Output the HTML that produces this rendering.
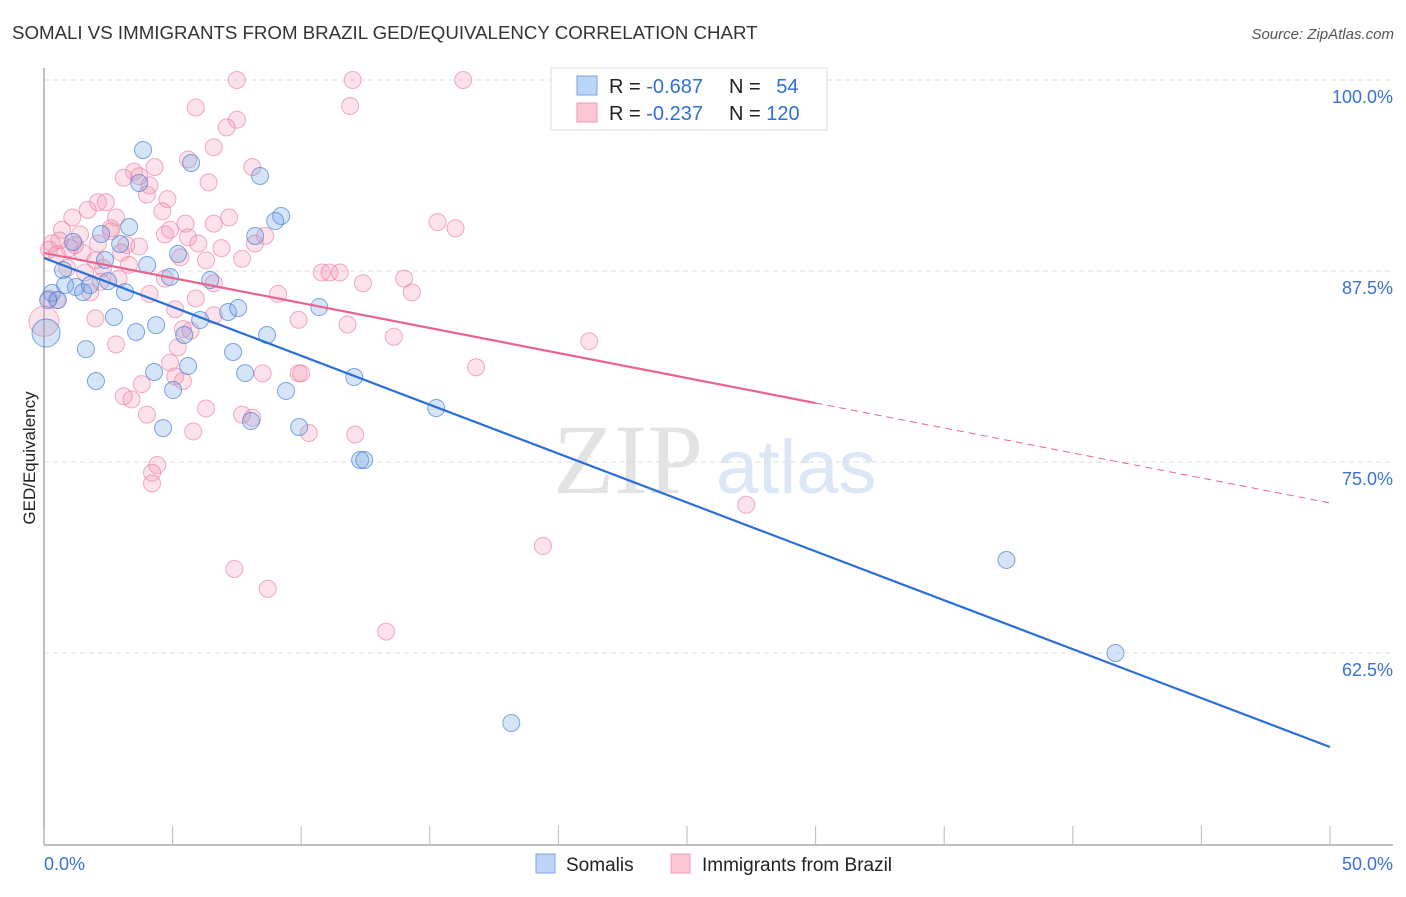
<!DOCTYPE html>
<html><head><meta charset="utf-8"><style>
html,body{margin:0;padding:0;background:#fff;}
body{width:1406px;height:892px;overflow:hidden;font-family:"Liberation Sans",sans-serif;}
</style></head><body>
<svg id="chart" width="1406" height="892" xmlns="http://www.w3.org/2000/svg">
<text x="12" y="39" font-size="18.7" fill="#333">SOMALI VS IMMIGRANTS FROM BRAZIL GED/EQUIVALENCY CORRELATION CHART</text>
<text x="1394" y="39" font-size="15" fill="#555" font-style="italic" text-anchor="end">Source: ZipAtlas.com</text>
<g>
<text x="553" y="493" font-size="100" font-family="Liberation Serif,serif" fill="#e3e3e3">ZIP</text>
<text x="716" y="493" font-size="76" fill="#dbe6f6">atlas</text>
</g>
<g id="grid"></g>
<g id="axes"></g>
<g id="marks"></g>
<text transform="translate(35,458) rotate(-90)" font-size="17" fill="#222" text-anchor="middle">GED/Equivalency</text>
<g>
<rect x="551" y="68" width="276" height="62" fill="#fff" stroke="#ddd"/>
<rect x="577" y="76" width="20" height="19" fill="#bcd4f5" stroke="#7aa6e6"/>
<rect x="577" y="103" width="20" height="19" fill="#fcc8d7" stroke="#ee9ab4"/>
<text x="609" y="93" font-size="20" fill="#222">R = <tspan fill="#2f6fd6">-0.687</tspan></text>
<text x="729" y="93" font-size="20" fill="#222">N = <tspan fill="#2f6fd6" dx="10">54</tspan></text>
<text x="609" y="120" font-size="20" fill="#222">R = <tspan fill="#2f6fd6">-0.237</tspan></text>
<text x="729" y="120" font-size="20" fill="#222">N = <tspan fill="#2f6fd6">120</tspan></text>
</g>
<g>
<rect x="536" y="854" width="19" height="19" fill="#bcd4f5" stroke="#7aa6e6"/>
<text x="566" y="871" font-size="19" fill="#222">Somalis</text>
<rect x="671" y="854" width="19" height="19" fill="#fcc8d7" stroke="#ee9ab4"/>
<text x="702" y="871" font-size="19" fill="#222">Immigrants from Brazil</text>
</g>
</svg>
<script>
const xTicksLabels = ["0.0%","50.0%"];
const yTickValues = [100, 87.5, 75, 62.5];
const yTickLabels = ["100.0%","87.5%","75.0%","62.5%"];
const blueX = [3.85,5.72,8.40,3.70,9.22,8.99,3.31,2.22,8.21,2.96,1.13,5.21,2.37,4.01,0.74,4.90,6.46,2.49,0.31,0.54,1.24,1.52,3.15,2.72,4.36,6.07,7.16,7.55,10.70,8.67,3.58,5.45,1.63,7.35,2.02,5.60,4.28,7.82,12.06,5.02,9.41,15.25,4.63,8.05,9.92,12.29,12.45,37.42,41.66,18.17,0.08,0.16,1.79,0.82];
const blueY = [95.42,94.57,93.72,93.26,91.10,90.77,90.38,89.92,89.79,89.27,89.40,88.61,88.22,87.89,87.56,87.11,86.91,86.84,86.06,85.60,86.45,86.12,86.12,84.49,83.96,84.29,84.82,85.08,85.14,83.31,83.51,83.31,82.39,82.20,80.30,81.28,80.89,80.82,80.56,79.71,79.65,78.53,77.22,77.68,77.29,75.13,75.13,68.59,62.50,57.92,83.44,85.60,86.58,86.58];
const pinkX = [7.5,12.0,16.3,5.9,11.9,7.5,7.1,6.6,5.6,4.3,8.1,3.5,3.1,3.7,6.4,4.0,4.8,2.1,2.4,1.7,4.6,2.8,1.1,7.2,6.6,5.5,15.3,16.0,0.7,2.6,4.7,8.6,0.3,2.1,3.2,1.0,3.7,5.6,8.2,6.0,6.9,0.5,1.5,3.0,7.7,5.3,6.3,0.9,2.3,1.6,2.9,4.7,10.8,11.1,11.5,14.0,12.4,6.6,2.2,1.8,14.3,9.1,4.1,5.9,0.2,0.5,5.1,2.0,6.6,9.9,11.8,5.4,5.7,13.6,21.2,2.8,5.2,4.9,5.1,8.5,9.9,10.0,16.8,3.8,3.1,3.4,5.4,6.3,4.0,7.7,8.1,5.8,10.3,12.1,4.4,4.2,4.2,27.3,19.4,7.4,8.7,13.3,0.0,0.2,0.6,1.2,1.4,2.0,2.6,4.1,4.9,3.3];
const pinkY = [100.0,100.0,100.0,98.2,98.3,97.4,96.9,95.6,94.8,94.3,94.3,94.0,93.6,93.7,93.3,92.5,92.2,92.0,92.0,91.5,91.4,91.0,91.0,91.0,90.6,90.6,90.7,90.3,90.2,90.1,89.9,89.8,89.3,89.3,89.2,89.0,89.1,89.7,89.3,89.3,89.0,88.6,88.7,88.7,88.3,88.4,88.2,87.7,87.7,87.4,87.0,87.0,87.4,87.4,87.4,87.0,86.7,86.7,86.8,86.1,86.1,86.0,86.0,85.7,85.7,85.6,85.0,84.4,84.6,84.3,84.0,83.7,83.6,83.2,82.9,82.7,82.5,81.5,80.6,80.8,80.8,80.8,81.2,80.1,79.3,79.1,80.3,78.5,78.1,78.1,77.9,77.0,76.9,76.8,74.8,74.3,73.6,72.2,69.5,68.0,66.7,63.9,84.2,88.9,89.5,89.2,89.9,88.2,90.3,93.1,90.2,87.9];
const blueTrend = [88.35, 56.35];
const pinkTrend = [88.68, 78.86, 72.32];
const pinkTrendBreak = 30;

const NS = "http://www.w3.org/2000/svg";
const X0 = 44, X1 = 1330, YTOP = 80, PXPER = 191/12.5;
function sx(v){ return X0 + (v/50)*(X1-X0); }
function sy(v){ return YTOP + (100-v)*PXPER; }
function mk(tag, attrs, parent){
  const e = document.createElementNS(NS, tag);
  for (const k in attrs) e.setAttribute(k, attrs[k]);
  parent.appendChild(e);
  return e;
}
const grid = document.getElementById('grid');
const axes = document.getElementById('axes');
const marks = document.getElementById('marks');

yTickValues.forEach((v,i)=>{
  const l = mk('line',{x1:X0,x2:1393,y1:sy(v),y2:sy(v),stroke:'#ddd','stroke-dasharray':'5,4'},grid);
  
  
  const t = mk('text',{x:1393,y:sy(v)+23,'font-size':18,fill:'#3a72d0','text-anchor':'end'},grid);
  t.textContent = yTickLabels[i];
  
  
});
const ya = mk('line',{x1:X0,x2:X0,y1:68,y2:845,stroke:'#aaa','stroke-width':1.5},axes);


const xa = mk('line',{x1:X0,x2:1393,y1:845,y2:845,stroke:'#aaa','stroke-width':1.5},axes);


for (let i=0;i<=10;i++){
  const tk = mk('line',{x1:sx(i*5),x2:sx(i*5),y1:826,y2:845,stroke:'#bbb'},axes);
  
  
}
const xl0 = mk('text',{x:44,y:870,'font-size':18,fill:'#3a72d0'},axes);
xl0.textContent = xTicksLabels[0];


const xl1 = mk('text',{x:1393,y:870,'font-size':18,fill:'#3a72d0','text-anchor':'end'},axes);
xl1.textContent = xTicksLabels[1];



pinkX.forEach((v,i)=>{
  const r = (v < 0.1) ? 15 : 8.5;
  const c = mk('circle',{cx:sx(v),cy:sy(pinkY[i]),r:r,fill:'rgba(244,150,180,0.28)',stroke:'rgba(232,120,155,0.6)','stroke-width':1},marks);
  
  
});
blueX.forEach((v,i)=>{
  const r = (v < 0.1) ? 14 : 8.5;
  const c = mk('circle',{cx:sx(v),cy:sy(blueY[i]),r:r,fill:'rgba(120,165,230,0.3)',stroke:'rgba(60,120,215,0.65)','stroke-width':1},marks);
  
  
});
const bl = mk('line',{x1:sx(0),y1:sy(blueTrend[0]),x2:sx(50),y2:sy(blueTrend[1]),stroke:'#2a6fd8','stroke-width':2.2},marks);


const pl = mk('line',{x1:sx(0),y1:sy(pinkTrend[0]),x2:sx(pinkTrendBreak),y2:sy(pinkTrend[1]),stroke:'#e8648f','stroke-width':2.2},marks);


const pd = mk('line',{x1:sx(pinkTrendBreak),y1:sy(pinkTrend[1]),x2:sx(50),y2:sy(pinkTrend[2]),stroke:'#e8648f','stroke-width':1,'stroke-dasharray':'7,5'},marks);


</script>
</body></html>
